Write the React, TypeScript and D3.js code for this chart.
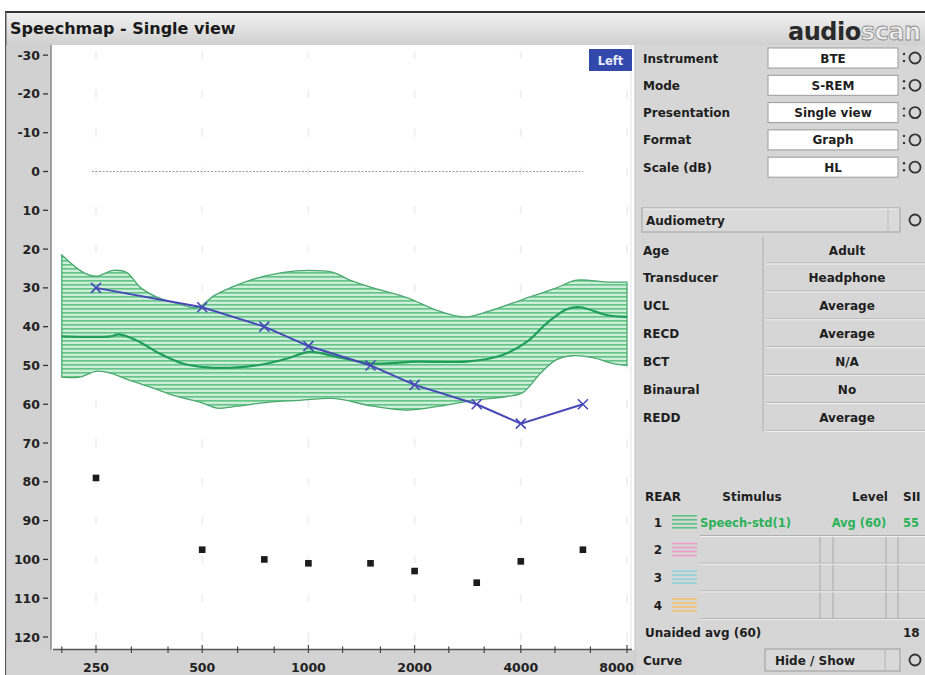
import React from 'react';
import * as d3 from 'd3';

// audiogram thresholds (blue X), dB HL
const audioFreqs = [250, 500, 750, 1000, 1500, 2000, 3000, 4000, 6000];
const thresholds = [30, 35, 40, 45, 50, 55, 60, 65, 60];

// UCL markers (black dots), dB HL
const uclFreqs = [250, 500, 750, 1000, 1500, 2000, 3000, 4000, 6000];
const uclValues = [79, 97.5, 100, 101, 101, 103, 106, 100.5, 97.5];

// speech band, upper edge (soft), lower edge (loud) and LTASS mean : [Hz, dB]
const bandUpper: [number, number][] = [
  [200, 21.5], [230, 26], [250, 27], [280, 25.5], [305, 26], [335, 30], [375, 32.5],
  [425, 34], [485, 35], [540, 32], [600, 30], [685, 28], [850, 26], [1000, 25.5],
  [1175, 26], [1310, 28], [1525, 30], [1900, 32.5], [2350, 36], [2800, 37.5],
  [3250, 36], [4050, 33], [5050, 30], [5750, 28], [7000, 28.5], [8000, 28.5],
];
const bandLower: [number, number][] = [
  [200, 53], [225, 53], [250, 51.5], [275, 52], [305, 53.5], [355, 55.5], [425, 58],
  [495, 59.5], [550, 61], [630, 60.5], [765, 59.5], [945, 59], [1175, 58.5],
  [1525, 60.5], [1900, 61.5], [2350, 60.5], [2925, 59], [3650, 58], [4050, 57],
  [4550, 52], [5050, 48.5], [5600, 47.5], [6400, 48], [7300, 49.5], [8000, 50],
];
const ltass: [number, number][] = [
  [200, 42.5], [275, 42.5], [290, 42], [325, 43.5], [380, 47], [440, 49.5], [515, 50.5],
  [630, 50.5], [765, 49.5], [885, 48], [1010, 46.5], [1230, 48], [1525, 49.5],
  [2030, 49], [2800, 49], [3500, 47.5], [4150, 44], [4750, 39], [5400, 35.5],
  [5900, 35], [7000, 37], [8000, 37.5],
];

const yTicks = d3.range(-30, 121, 10);
const xLabels = [250, 500, 1000, 2000, 4000, 8000];
const thirdOctaves = [200, 250, 315, 400, 500, 630, 800, 1000, 1250, 1600, 2000, 2500, 3150, 4000, 5000, 6300, 8000];

// right-hand panel texts
const settingLabels = ['Instrument', 'Mode', 'Presentation', 'Format', 'Scale (dB)'];
const settingValues = ['BTE', 'S-REM', 'Single view', 'Graph', 'HL'];
const audioLabels = ['Age', 'Transducer', 'UCL', 'RECD', 'BCT', 'Binaural', 'REDD'];
const audioValues = ['Adult', 'Headphone', 'Average', 'Average', 'N/A', 'No', 'Average'];
const rearRows = ['1', '2', '3', '4'];
const rearColors = ['#5cc283', '#ef9cc6', '#8fd3da', '#f3c26e'];

const UI = '"DejaVu Sans", Verdana, sans-serif';

const x = d3.scaleLog().domain([250, 8000]).range([96, 627]);
const y = d3.scaleLinear().domain([0, 120]).range([171.5, 637]);

const edge = d3.line<[number, number]>()
  .x(d => x(d[0]))
  .y(d => y(d[1]))
  .curve(d3.curveCatmullRom);

const Icon = ({ cx, cy }: { cx: number; cy: number }) => (
  <g>
    <circle cx={cx - 11} cy={cy - 4} r={1.2} fill="#333" />
    <circle cx={cx - 11} cy={cy + 3} r={1.2} fill="#333" />
    <circle cx={cx} cy={cy} r={5.5} fill="none" stroke="#333" strokeWidth={1.8} />
  </g>
);

export default function App() {
  const upperPath = edge(bandUpper) || '';
  const lowerRev = edge([...bandLower].reverse()) || '';
  const bandPath = upperPath + 'L' + lowerRev.slice(1) + 'Z';

  const threshLine = d3.line<number>()
    .x((_, i) => x(audioFreqs[i]))
    .y(d => y(d))(thresholds) || '';

  const dot = d3.symbol().type(d3.symbolSquare).size(44)() || '';

  return (
    <svg width={925} height={675} style={{ position: 'absolute', left: 0, top: 0 }}
      fontFamily={UI}>
      <defs>
        <linearGradient id="titleBg" x1="0" x2="0" y1="0" y2="1">
          <stop offset="0" stopColor="#f2f2f2" />
          <stop offset="1" stopColor="#d0d0d0" />
        </linearGradient>
        <pattern id="hatch" width={8} height={4} patternUnits="userSpaceOnUse">
          <rect width={8} height={4} fill="#cdeed8" />
          <rect width={8} height={1.6} fill="#62c486" />
        </pattern>
      </defs>

      <rect width={925} height={675} fill="#fff" />

      {/* title bar */}
      <rect x={5} y={12} width={920} height={33} fill="url(#titleBg)" />
      <rect x={5} y={11} width={920} height={2} fill="#333" />
      <text x={10} y={34} fontSize={16} fontWeight="bold" fill="#1a1a1a">Speechmap - Single view</text>
      <text x={788} y={40} fontSize={24} fontWeight="bold" fill="#2a2a2a" letterSpacing={-0.5}>
        audio<tspan fill="#ececec" stroke="#8a8a8a" strokeWidth={0.8}>scan</tspan>
      </text>

      {/* left axis strip */}
      <rect x={5} y={12} width={1.5} height={663} fill="#555" />
      <rect x={6.5} y={45} width={45} height={630} fill="#d1d1d1" />
      <line x1={51} x2={51} y1={45} y2={650} stroke="#777" strokeWidth={1.2} />
      {/* bottom strip */}
      <rect x={6.5} y={650} width={629} height={25} fill="#d3d3d3" />

      {/* plot area */}
      <rect x={52} y={45} width={583} height={604} fill="#fff" />
      <line x1={631} x2={631} y1={45} y2={649} stroke="#e2e2e2" />

      {/* faint grid marks */}
      {xLabels.map(f => yTicks.map(v => (
        <rect key={`g${f}-${v}`} x={x(f) - 1} y={y(v) - 4} width={2} height={8} fill="#f0f0f0" />
      )))}

      {/* 0 dB reference */}
      <line x1={x(250) - 4} x2={x(6000)} y1={y(0)} y2={y(0)} stroke="#9c9c9c" strokeDasharray="2,1.5" />

      {/* y axis */}
      {yTicks.map(v => (
        <g key={`y${v}`}>
          <text x={40} y={y(v) + 4.5} textAnchor="end" fontSize={12.5} fontWeight="bold" fill="#222">{v}</text>
          <line x1={43} x2={48} y1={y(v)} y2={y(v)} stroke="#333" strokeWidth={1.3} />
        </g>
      ))}

      {/* x axis */}
      <line x1={53} x2={632} y1={649.5} y2={649.5} stroke="#555" strokeWidth={1.5} />
      {thirdOctaves.map(f => (
        <line key={`t${f}`} x1={x(f)} x2={x(f)} y1={xLabels.includes(f) ? 645 : 646.5} y2={653}
          stroke="#444" strokeWidth={1.2} />
      ))}
      {xLabels.map((f, i) => (
        <text key={`x${f}`} x={i === xLabels.length - 1 ? 634 : x(f)} y={672}
          textAnchor={i === xLabels.length - 1 ? 'end' : 'middle'}
          fontSize={12.5} fontWeight="bold" fill="#222">{f}</text>
      ))}

      {/* speech band */}
      <path d={bandPath} fill="url(#hatch)" stroke="#4ba870" strokeWidth={1.3} />
      <path d={edge(ltass) || ''} fill="none" stroke="#1e9e58" strokeWidth={2.2} />

      {/* thresholds */}
      <path d={threshLine} fill="none" stroke="#4848b8" strokeWidth={2} />
      {thresholds.map((v, i) => {
        const cx = x(audioFreqs[i]), cy = y(v);
        return (
          <path key={`th${i}`} d={`M${cx - 5},${cy - 5}L${cx + 5},${cy + 5}M${cx - 5},${cy + 5}L${cx + 5},${cy - 5}`}
            stroke="#4848b8" strokeWidth={1.6} />
        );
      })}

      {/* UCL */}
      {uclValues.map((v, i) => (
        <path key={`u${i}`} d={dot} transform={`translate(${x(uclFreqs[i])},${y(v)})`} fill="#1c1c1c" />
      ))}

      {/* Left button */}
      <rect x={589} y={49} width={43} height={22} fill="#3348ab" />
      <text x={610.5} y={64.5} textAnchor="middle" fontSize={11.5} fontWeight="bold" fill="#e8ecff">Left</text>

      {/* right panel */}
      <rect x={635} y={45} width={290} height={630} fill="#d6d6d6" />
      <line x1={635} x2={635} y1={45} y2={675} stroke="#c4c4c4" />

      {settingLabels.map((l, i) => {
        const cy = 58 + i * 27.3;
        return (
          <g key={l}>
            <text x={643} y={cy + 4.5} fontSize={12} fontWeight="bold" fill="#1e1e1e">{l}</text>
            <rect x={768} y={cy - 10} width={130} height={20} fill="#fff" stroke="#9a9a9a" />
            <text x={833} y={cy + 4.5} textAnchor="middle" fontSize={12} fontWeight="bold" fill="#1e1e1e">{settingValues[i]}</text>
            <Icon cx={915} cy={cy} />
          </g>
        );
      })}

      {/* Audiometry */}
      <rect x={642} y={208} width={258} height={24} fill="#dadada" stroke="#a2a2a2" />
      <line x1={643} x2={899} y1={209} y2={209} stroke="#f4f4f4" />
      <line x1={888} x2={888} y1={209} y2={231} stroke="#bdbdbd" />
      <text x={646} y={225} fontSize={12} fontWeight="bold" fill="#1e1e1e">Audiometry</text>
      <circle cx={915} cy={220} r={5.5} fill="none" stroke="#333" strokeWidth={1.8} />

      <line x1={763} x2={763} y1={237} y2={431} stroke="#b0b0b0" />
      {audioLabels.map((l, i) => {
        const cy = 250 + i * 27.9;
        return (
          <g key={l}>
            <text x={643} y={cy + 4.5} fontSize={12} fontWeight="bold" fill="#1e1e1e">{l}</text>
            <line x1={766} x2={925} y1={cy + 13} y2={cy + 13} stroke="#b3b3b3" />
            <line x1={766} x2={925} y1={cy + 14} y2={cy + 14} stroke="#f2f2f2" />
            <text x={847} y={cy + 4.5} textAnchor="middle" fontSize={12} fontWeight="bold" fill="#1e1e1e">{audioValues[i]}</text>
          </g>
        );
      })}

      {/* REAR table */}
      <text x={645} y={501} fontSize={12} fontWeight="bold" fill="#1e1e1e">REAR</text>
      <text x={752} y={501} textAnchor="middle" fontSize={12} fontWeight="bold" fill="#1e1e1e">Stimulus</text>
      <text x={870} y={501} textAnchor="middle" fontSize={12} fontWeight="bold" fill="#1e1e1e">Level</text>
      <text x={903} y={501} fontSize={12} fontWeight="bold" fill="#1e1e1e">SII</text>
      {[820, 833, 886, 898].map(vx => (
        <line key={`v${vx}`} x1={vx} x2={vx} y1={537} y2={619} stroke="#a8a8a8" />
      ))}
      {rearRows.map((r, i) => {
        const cy = 522 + i * 27.7;
        return (
          <g key={`r${r}`}>
            <text x={658} y={cy + 4.5} textAnchor="middle" fontSize={12} fontWeight="bold" fill="#1e1e1e">{r}</text>
            {[0, 1, 2, 3].map(k => (
              <rect key={k} x={672} y={cy - 7 + k * 4} width={25} height={1.6} fill={rearColors[i]} />
            ))}
            <line x1={700} x2={925} y1={cy + 13.5} y2={cy + 13.5} stroke="#b0b0b0" />
            <line x1={700} x2={925} y1={cy + 14.5} y2={cy + 14.5} stroke="#f0f0f0" />
          </g>
        );
      })}
      <text x={700} y={526.5} fontSize={11.5} fontWeight="bold" fill="#2ab257">Speech-std(1)</text>
      <text x={859} y={526.5} textAnchor="middle" fontSize={11.5} fontWeight="bold" fill="#2ab257">Avg (60)</text>
      <text x={903} y={526.5} fontSize={11.5} fontWeight="bold" fill="#2ab257">55</text>

      <text x={645} y={637} fontSize={12} fontWeight="bold" fill="#1e1e1e">Unaided avg (60)</text>
      <text x={903} y={637} fontSize={12} fontWeight="bold" fill="#1e1e1e">18</text>

      <text x={643} y={664.5} fontSize={12} fontWeight="bold" fill="#1e1e1e">Curve</text>
      <rect x={765} y={649} width={135} height={22} fill="#d9d9d9" stroke="#9a9a9a" />
      <line x1={885} x2={885} y1={650} y2={670} stroke="#b5b5b5" />
      <text x={815} y={664.5} textAnchor="middle" fontSize={12} fontWeight="bold" fill="#1e1e1e">Hide / Show</text>
      <circle cx={915} cy={660} r={5.5} fill="none" stroke="#333" strokeWidth={1.8} />
    </svg>
  );
}
